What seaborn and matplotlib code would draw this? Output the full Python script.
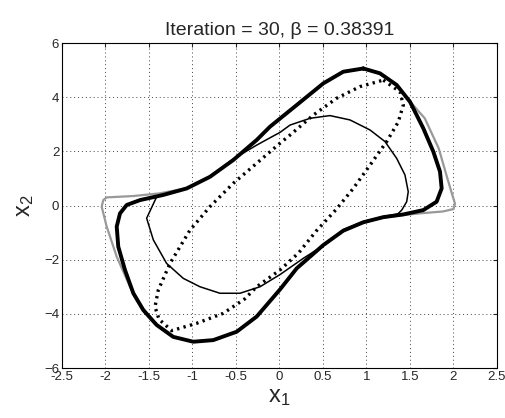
import matplotlib
matplotlib.use('Agg')
import matplotlib.pyplot as plt
import seaborn as sns
import pandas as pd

# closed trajectories (x1, x2)
gray_x1 = [0.963, 1.155, 1.347, 1.47, 1.67, 1.83, 1.93, 1.98, 2.017, 2.0, 1.88, 1.653,
           1.423, 1.193, 0.963, 0.733, 0.504, 0.198, 0.006, -0.262, -0.492, -0.761, -0.991,
           -1.221, -1.412, -1.566, -1.718, -1.871, -1.986, -2.044, -2.025, -1.986, -1.68,
           -1.374, -1.067, -0.799, -0.531, -0.262, -0.109, 0.198, 0.504, 0.733, 0.963]
gray_x2 = [5.05, 4.87, 4.45, 3.95, 3.22, 2.11, 1.0, 0.46, 0.07, -0.13, -0.22, -0.28,
           -0.35, -0.45, -0.63, -0.94, -1.47, -2.33, -3.1, -4.1, -4.66, -4.97, -5.03,
           -4.85, -4.41, -3.80, -3.0, -1.89, -0.78, -0.04, 0.20, 0.30, 0.35,
           0.45, 0.64, 1.07, 1.69, 2.43, 2.92, 3.72, 4.52, 4.94, 5.05]

thick_x1 = [0.963, 1.155, 1.347, 1.50, 1.653, 1.768, 1.845, 1.864, 1.806, 1.653, 1.423,
            1.193, 0.963, 0.733, 0.504, 0.198, 0.006, -0.262, -0.492, -0.761, -0.991,
            -1.221, -1.412, -1.566, -1.68, -1.776, -1.853, -1.871, -1.833, -1.756, -1.603,
            -1.336, -1.067, -0.799, -0.531, -0.262, -0.109, 0.198, 0.504, 0.733, 0.963]
thick_x2 = [5.06, 4.88, 4.45, 3.83, 2.85, 1.99, 1.25, 0.63, 0.14, -0.17, -0.33,
            -0.43, -0.62, -0.93, -1.46, -2.32, -3.1, -4.1, -4.66, -4.97, -5.03,
            -4.85, -4.41, -3.86, -3.24, -2.38, -1.52, -0.78, -0.29, 0.02, 0.20,
            0.39, 0.63, 1.06, 1.68, 2.42, 2.91, 3.71, 4.51, 4.94, 5.06]

dotted_x1 = [1.193, 1.385, 1.423, 1.366, 1.232, 1.04, 0.848, 0.65, 0.42, 0.22, 0.006,
             -0.262, -0.40, -0.646, -0.952, -1.239, -1.385, -1.431, -1.393, -1.259,
             -1.029, -0.799, -0.531, -0.262, 0.006, 0.121, 0.389, 0.657, 0.925, 1.193]
dotted_x2 = [4.63, 4.20, 3.71, 3.09, 2.36, 1.49, 0.63, -0.15, -0.95, -1.75, -2.38,
             -3.0, -3.45, -3.98, -4.35, -4.62, -4.2, -3.74, -3.12, -2.14,
             -0.91, -0.04, 0.82, 1.56, 2.30, 2.60, 3.34, 3.96, 4.39, 4.63]

thin_x1 = [1.36, 1.193, 0.963, 0.733, 0.543, 0.274, 0.006, -0.224, -0.454, -0.684,
           -0.914, -1.106, -1.297, -1.45, -1.527, -1.412, -1.336, -1.067, -0.799, -0.531,
           -0.262, -0.109, 0.006, 0.121, 0.351, 0.58, 0.81, 1.04, 1.213, 1.347, 1.442,
           1.48, 1.462, 1.405, 1.36]
thin_x2 = [-0.31, -0.41, -0.59, -0.89, -1.40, -1.95, -2.55, -3.0, -3.24, -3.24,
           -3.0, -2.69, -2.14, -1.27, -0.47, 0.32, 0.40, 0.64, 1.07, 1.72,
           2.23, 2.50, 2.70, 2.97, 3.22, 3.32, 3.16, 2.79, 2.36, 1.74, 1.13,
           0.51, 0.14, -0.17, -0.31]

x_ticks = [-2.5, -2, -1.5, -1, -0.5, 0, 0.5, 1, 1.5, 2, 2.5]
y_ticks = [-6, -4, -2, 0, 2, 4, 6]

sns.set_style('white')
plt.rcParams['font.family'] = ['Liberation Sans', 'DejaVu Sans']
plt.rcParams['mathtext.default'] = 'regular'

fig = plt.figure(figsize=(5.06, 4.18), dpi=100)
ax = fig.add_axes([0.1225, 0.1196, 0.8597, 0.7775])

def draw(x1, x2, **kw):
    df = pd.DataFrame({'x1': x1, 'x2': x2})
    sns.lineplot(data=df, x='x1', y='x2', sort=False, estimator=None, ax=ax,
                 solid_joinstyle='round', solid_capstyle='round', **kw)

draw(gray_x1, gray_x2, color='#999999', linewidth=1.6)
draw(dotted_x1, dotted_x2, color='black', linewidth=2.4, linestyle=(0, (0.7, 1.3)))
draw(thin_x1, thin_x2, color='black', linewidth=1.1)
draw(thick_x1, thick_x2, color='black', linewidth=2.8)

ax.set_xlim(-2.5, 2.5)
ax.set_ylim(-6, 6)
ax.set_xticks(x_ticks)
ax.set_xticklabels([f'{t:g}' for t in x_ticks])
ax.set_yticks(y_ticks)
ax.grid(True, color='#444444', linestyle=(0, (1, 3)), linewidth=0.7)
ax.tick_params(direction='in', top=True, right=True, length=3, labelsize=9.5, pad=2)
for s in ax.spines.values():
    s.set_color('black')
    s.set_linewidth(0.8)

ax.set_title('Iteration = 30, β = 0.38391', fontsize=14, pad=6)
ax.set_xlabel('x$_1$', fontsize=17, labelpad=2)
ax.set_ylabel('x$_2$', fontsize=17, labelpad=6)

fig.savefig('out.png', dpi=100)
